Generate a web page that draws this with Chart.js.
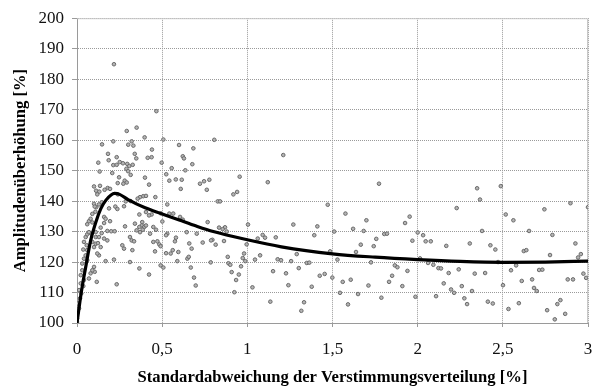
<!DOCTYPE html>
<html>
<head>
<meta charset="utf-8">
<script src="https://cdn.jsdelivr.net/npm/chart.js@4/dist/chart.umd.min.js"></script>
<style>
  body { margin: 0; background: #fff; }
  canvas { display: block; }
</style>
</head>
<body>
<canvas id="wykres" width="593" height="390"></canvas>
<script>
// Messpunkte [Standardabweichung %, Amplitudenüberhöhung %]
const pointsSteep = [
  [0, 100.3], [0, 101.5], [0.002, 103.2], [0.012, 104.8], [0.006, 106.4], [0.018, 108.1], [0.025, 109.7], [0.012, 110.8],
  [0.037, 112.1], [0.022, 113.0], [0.041, 114.1], [0.022, 115.7], [0.031, 117.3], [0.07, 114.6], [0.08, 116.3], [0.104, 116.8],
  [0.09, 117.3], [0.1, 118.4], [0.116, 113.5], [0.233, 112.7], [0.031, 119.5], [0.06, 120.6], [0.041, 121.1], [0.051, 122.2],
  [0.129, 122.2], [0.119, 122.8], [0.168, 120.3], [0.217, 120.8], [0.06, 123.9], [0.037, 124.1], [0.057, 125.5], [0.041, 126.6],
  [0.1, 124.9], [0.139, 124.9], [0.266, 125.5], [0.276, 124.4], [0.325, 123.9], [0.09, 126.6], [0.11, 126.0], [0.123, 126.2],
  [0.159, 127.7], [0.178, 127.1], [0.051, 128.2], [0.06, 129.1], [0.084, 129.3], [0.07, 129.8], [0.11, 128.2], [0.129, 128.2],
  [0.11, 129.8], [0.145, 129.5], [0.139, 131.3], [0.178, 130.2], [0.201, 130.1], [0.221, 130.1], [0.282, 131.7], [0.06, 132.4],
  [0.09, 133.0], [0.07, 133.4], [0.08, 134.2], [0.159, 132.8], [0.194, 133.4], [0.159, 134.8], [0.168, 134.2], [0.09, 135.8],
  [0.108, 136.5], [0.1, 139.1], [0.113, 138.0], [0.129, 138.9], [0.145, 139.6], [0.276, 138.3], [0.286, 139.9], [0.104, 138.2],
  [0.225, 138.2], [0.237, 137.4], [0.188, 137.6]
];

const pointsPeak = [
  [0.217, 184.9], [0.292, 163.0], [0.147, 158.6], [0.213, 159.6], [0.301, 158.5], [0.182, 155.5], [0.233, 154.4], [0.186, 153.4],
  [0.125, 152.6], [0.251, 152.8], [0.27, 152.4], [0.213, 151.8], [0.233, 151.9], [0.295, 152.2], [0.307, 151.5], [0.29, 150.6],
  [0.3, 149.8], [0.133, 149.7], [0.207, 149.2], [0.247, 147.8], [0.28, 146.7], [0.292, 146.1], [0.272, 145.7], [0.239, 145.9],
  [0.1, 144.8], [0.135, 145.0], [0.18, 144.3], [0.194, 144.0], [0.112, 143.4], [0.131, 143.1], [0.119, 142.2], [0.162, 143.7],
  [0.24, 142.2], [0.466, 169.5], [0.35, 164.1], [0.397, 160.9], [0.507, 160.2], [0.321, 159.6], [0.331, 158.2], [0.599, 158.4],
  [0.44, 156.9], [0.683, 157.3], [0.339, 155.5], [0.348, 154.0], [0.621, 154.7], [0.628, 154.0], [0.415, 154.2], [0.438, 154.4],
  [0.497, 152.6], [0.327, 151.9], [0.677, 152.1], [0.556, 150.8], [0.636, 150.1], [0.315, 148.6], [0.524, 148.8], [0.399, 147.7],
  [0.542, 146.7], [0.58, 147.1], [0.615, 147.0], [0.722, 145.7], [0.746, 146.5], [0.423, 145.4], [0.609, 144.0]
];

const pointsMid = [
  [0.389, 141.6], [0.405, 141.7], [0.37, 141.3], [0.356, 140.8], [0.46, 141.3], [0.53, 138.9], [0.315, 140.0], [0.366, 135.6],
  [0.405, 136.4], [0.438, 135.6], [0.423, 135.3], [0.491, 136.0], [0.542, 135.9], [0.565, 135.9], [0.501, 133.3], [0.605, 134.8],
  [0.621, 133.9], [0.34, 132.6], [0.383, 133.1], [0.38, 132.0], [0.366, 131.5], [0.395, 131.5], [0.405, 132.0], [0.35, 130.4],
  [0.386, 130.6], [0.37, 129.8], [0.448, 131.5], [0.464, 130.6], [0.429, 129.3], [0.53, 129.3], [0.523, 128.8], [0.644, 129.8],
  [0.703, 129.3], [0.311, 128.2], [0.321, 127.1], [0.335, 126.8], [0.448, 126.6], [0.472, 126.8], [0.483, 125.8], [0.491, 125.2],
  [0.575, 126.8], [0.581, 128.0], [0.659, 126.1], [0.738, 126.4], [0.673, 124.4], [0.458, 123.5], [0.523, 122.9], [0.55, 122.8],
  [0.562, 123.9], [0.595, 123.3], [0.648, 121.1], [0.656, 121.7], [0.589, 120.3], [0.311, 120.0], [0.491, 118.9], [0.507, 118.2],
  [0.668, 118.2], [0.366, 117.9], [0.423, 115.9], [0.687, 114.9], [0.697, 112.3],
  [0.806, 160.1], [1.211, 155.1], [0.777, 147.0], [0.762, 143.7], [0.955, 148.0], [1.12, 146.2], [0.918, 142.2], [0.94, 143.0],
  [0.826, 139.9], [0.84, 139.9], [1.472, 138.8], [0.767, 133.1], [1.004, 132.3], [1.27, 132.3], [1.411, 131.7], [0.834, 131.3],
  [0.869, 131.4], [0.855, 130.8], [0.879, 130.0], [1.51, 130.0], [1.09, 128.9], [1.104, 128.0], [1.061, 127.7], [1.167, 128.1],
  [1.393, 128.8], [0.795, 127.3], [0.787, 127.1], [0.863, 126.9], [0.814, 125.7], [0.996, 125.8], [1.486, 123.5], [1.29, 122.6],
  [0.981, 122.8], [0.973, 121.3], [0.988, 120.3], [1.075, 122.2], [0.885, 121.7], [1.045, 120.8], [1.178, 120.9], [1.198, 120.6],
  [1.257, 120.3], [0.785, 119.9], [0.889, 119.6], [0.9, 119.1], [1.349, 119.7], [1.364, 119.8], [0.963, 118.6], [1.302, 118.0],
  [0.908, 116.7], [1.151, 117.0], [1.227, 116.3], [0.95, 115.9], [1.454, 116.1], [1.425, 115.5], [1.499, 114.9], [0.934, 114.1],
  [1.241, 112.4], [1.03, 111.7], [1.378, 111.9], [0.924, 110.1], [1.135, 107.0], [1.333, 106.8], [1.317, 104.0]
];

const pointsRight = [
  [1.773, 145.7], [2.229, 137.7], [1.576, 135.9], [1.953, 134.9], [1.926, 132.8], [1.699, 133.7], [1.621, 130.9], [1.683, 130.2],
  [2.0, 129.7], [2.032, 128.8], [1.804, 129.2], [1.82, 129.3], [1.757, 127.6], [1.969, 127.0], [2.047, 126.8], [2.077, 126.8],
  [2.168, 125.3], [1.666, 125.7], [1.742, 125.2], [1.638, 123.3], [1.529, 120.8], [1.726, 119.9], [2.014, 121.2], [1.866, 118.9],
  [1.881, 118.3], [2.061, 119.7], [2.092, 119.1], [2.122, 118.0], [2.137, 117.9], [2.241, 117.6], [1.94, 117.1], [2.182, 116.4],
  [1.85, 115.5], [1.56, 113.5], [1.607, 114.2], [1.832, 113.5], [2.153, 113.0], [1.711, 112.3], [1.91, 112.1], [2.196, 111.0],
  [2.214, 109.9], [1.544, 109.9], [1.65, 109.5], [1.787, 108.3], [1.987, 108.6], [2.108, 108.8], [1.591, 106.1],
  [2.349, 144.2], [2.488, 144.9], [2.366, 140.5], [2.897, 139.3], [3.0, 138.0], [2.744, 137.3], [2.517, 135.6], [2.562, 133.7],
  [2.378, 130.2], [2.654, 130.2], [2.791, 128.9], [2.306, 126.1], [2.427, 125.5], [2.926, 126.1], [2.456, 124.1], [2.623, 123.6],
  [2.638, 123.9], [2.958, 122.6], [2.942, 121.5], [2.777, 122.3], [2.472, 120.0], [2.578, 118.9], [2.335, 116.2], [2.396, 116.4],
  [2.548, 117.3], [2.713, 117.4], [2.732, 117.5], [2.973, 116.2], [2.989, 114.8], [2.611, 113.8], [2.672, 114.3], [2.881, 114.3],
  [2.912, 114.3], [2.501, 112.4], [2.259, 112.1], [2.319, 110.5], [2.683, 111.5], [2.699, 110.5], [2.274, 108.1], [2.29, 106.2],
  [2.412, 107.0], [2.441, 106.4], [2.838, 107.5], [2.82, 106.2], [2.594, 106.5], [2.533, 104.6], [2.76, 104.2], [2.866, 103.0],
  [2.805, 101.2]
];

// Ausgleichskurve
const curveX = [0, 0.025, 0.05, 0.08, 0.11, 0.14, 0.17, 0.2, 0.22, 0.25, 0.3, 0.4, 0.5, 0.6, 0.7, 0.8, 1.0, 1.2, 1.5, 1.75, 2.0, 2.25, 2.5, 2.75, 3.0];
const curveY = [100, 110, 118, 127, 133, 137.5, 140.3, 142, 142.5, 142.2, 140.5, 137.8, 135.8, 133.8, 131.8, 130, 127.3, 125, 122.7, 121.6, 120.8, 120.2, 119.9, 120, 120.3];

const xTitle = 'Standardabweichung der Verstimmungsverteilung [%]';
const yTitle = 'Amplitudenüberhöhung [%]';

const toXY = (p) => ({ x: p[0], y: p[1] });
const scatterData = [].concat(pointsSteep, pointsPeak, pointsMid, pointsRight).map(toXY);
const curveData = curveX.map((x, i) => ({ x: x, y: curveY[i] }));

const frame = {
  id: 'frame',
  beforeDatasetsDraw(chart) {
    const a = chart.chartArea;
    const ctx = chart.ctx;
    ctx.save();
    ctx.strokeStyle = '#c8c8c8';
    ctx.lineWidth = 1;
    ctx.beginPath();
    ctx.moveTo(a.left, a.top + 0.5);
    ctx.lineTo(a.right - 0.5, a.top + 0.5);
    ctx.lineTo(a.right - 0.5, a.bottom);
    ctx.stroke();
    ctx.restore();
  }
};

const serif = 'Liberation Serif, Times New Roman, serif';

new Chart(document.getElementById('wykres'), {
  type: 'scatter',
  data: {
    datasets: [
      {
        type: 'line',
        label: 'Kurve',
        data: curveData,
        borderColor: '#000',
        borderWidth: 3.2,
        pointRadius: 0,
        fill: false,
        tension: 0.4,
        cubicInterpolationMode: 'monotone'
      },
      {
        label: 'Messwerte',
        data: scatterData,
        backgroundColor: '#b4b4b4',
        borderColor: '#6a6a6a',
        borderWidth: 1,
        pointRadius: 1.8
      }
    ]
  },
  options: {
    responsive: false,
    animation: false,
    layout: { padding: { top: 17, right: 5, left: 0, bottom: 0 } },
    plugins: {
      legend: { display: false },
      tooltip: { enabled: false }
    },
    scales: {
      x: {
        type: 'linear',
        min: 0,
        max: 3,
        afterFit: (s) => {
          s.height = 67;
          s.paddingLeft = 0;
          s.paddingRight = 0;
        },
        ticks: {
          stepSize: 0.5,
          padding: 12,
          color: '#111',
          font: { family: serif, size: 17 },
          callback: (v) => String(v).replace('.', ',')
        },
        grid: { color: '#9a9a9a', tickLength: 4, tickColor: '#9a9a9a' },
        border: { color: '#9a9a9a', dash: [1, 1] },
        title: {
          display: true,
          text: xTitle,
          color: '#000',
          font: { family: serif, size: 16.6, weight: 'bold' },
          padding: { top: 0, bottom: 2 }
        }
      },
      y: {
        min: 100,
        max: 200,
        afterFit: (s) => { s.width = 77; },
        ticks: {
          stepSize: 10,
          padding: 8,
          color: '#111',
          font: { family: serif, size: 17 }
        },
        grid: { color: '#9a9a9a', tickLength: 5, tickColor: '#9a9a9a' },
        border: { color: '#9a9a9a', dash: [1, 1] },
        title: {
          display: true,
          text: yTitle,
          color: '#000',
          font: { family: serif, size: 16.6, weight: 'bold' },
          padding: { top: 11, bottom: 0 }
        }
      }
    }
  },
  plugins: [frame]
});
</script>
</body>
</html>
